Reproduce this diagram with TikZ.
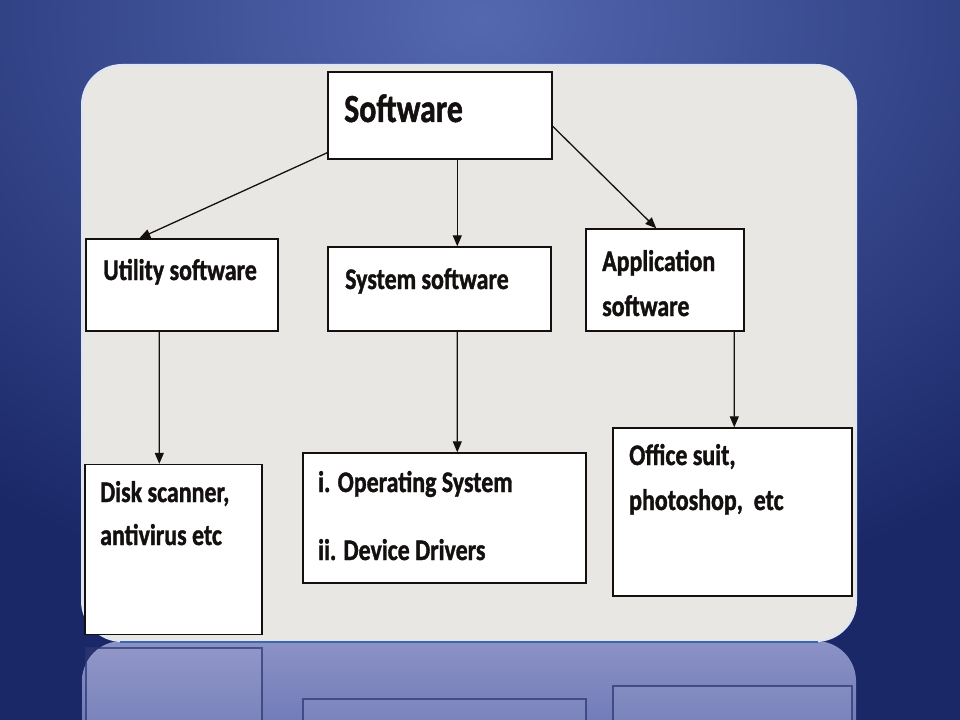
\documentclass[tikz,border=0pt]{standalone}
\usepackage{fontspec}
\setmainfont{Carlito}[FakeStretch=0.8, BoldFeatures={FakeBold=1.2}]
\usetikzlibrary{arrows.meta,calc}
\definecolor{navy}{RGB}{26,40,104}
\definecolor{skyb}{RGB}{84,104,176}
\definecolor{panelc}{RGB}{233,231,228}
\definecolor{panelb}{RGB}{222,230,244}
\definecolor{reflt}{RGB}{140,146,198}
\definecolor{reflb}{RGB}{88,102,170}
\definecolor{refll}{RGB}{40,52,112}
\definecolor{ink}{RGB}{20,16,16}
\tikzset{
  box/.style={draw=ink, line width=1.4bp, fill=white, inner sep=0pt},
  txt/.style={anchor=base west, inner sep=0pt, text=ink, font=\bfseries\fontsize{30}{36}\selectfont},
  big/.style={anchor=base west, inner sep=0pt, text=ink, font=\bfseries\fontsize{40}{46}\selectfont},
  arr/.style={draw=ink, line width=1.3bp, -{Triangle[length=11bp,width=9bp]}},
  rbox/.style={draw=refll, draw opacity=0.7, line width=1.4bp, fill=white, fill opacity=0.06}
}
\begin{document}
\begin{tikzpicture}[x=1bp,y=-1bp]
\useasboundingbox (0,0) rectangle (960,720);
% background
\fill[navy] (0,0) rectangle (960,720);
\begin{scope}
\clip (0,0) rectangle (960,720);
\shade[inner color=skyb, outer color=navy] (480,20) ellipse [x radius=800, y radius=600];
\end{scope}
% reflection
\begin{scope}
\clip (0,641) rectangle (960,720);
\shade[top color=reflt, bottom color=reflb, rounded corners=40bp] (82,641) rectangle (856,800);
\draw[rbox] (86,648) rectangle (262,822);
\draw[rbox] (303,699) rectangle (586,829);
\draw[rbox] (613,686) rectangle (852,854);
\end{scope}
% panel
\fill[panelc, rounded corners=40bp] (82,65) rectangle (856,641);
\draw[panelb, line width=2bp, rounded corners=40bp] (82,65) rectangle (856,641);
\draw[color={rgb,255:red,58;green,104;blue,170}, line width=2bp] (120,641.5) -- (818,641.5);
% boxes
\node[box, minimum width=224bp, minimum height=87bp] (sw) at (440,115.5) {};
\node[box, minimum width=192bp, minimum height=92bp] (ut) at (182,285) {};
\node[box, minimum width=223bp, minimum height=84bp] (sy) at (439.5,289) {};
\node[box, minimum width=158bp, minimum height=102bp] (ap) at (665,280) {};
\node[box, minimum width=177bp, minimum height=170bp] (dk) at (173.5,549.5) {};
\node[box, minimum width=283bp, minimum height=130bp] (os) at (444.5,518) {};
\node[box, minimum width=239bp, minimum height=168bp] (of) at (732.5,512) {};
% texts
\node[big] (t0) at (344,122) {Software};
\node[txt] (t1) at (103,280) {Utility software};
\node[txt] (t2) at (345,289) {System software};
\node[txt] (t3) at (602,271) {Application};
\node[txt] (t4) at (602,316) {software};
\node[txt] (t5) at (100,502) {Disk scanner,};
\node[txt] (t6) at (100,545) {antivirus etc};
\node[txt] (t7) at (318,492) {i. Operating System};
\node[txt] (t8) at (318,560) {ii. Device Drivers};
\node[txt] (t9) at (629,465) {Office suit,};
\node[txt] (t10) at (629,510) {photoshop,\ \ etc};
% connectors
\draw[arr] ($(sw.south west)+(0,-7)$) -- ($(ut.north west)+(54,0)$);
\draw[arr] ($(sw.south west)+(130,0)$) -- ($(sy.north west)+(130,0)$);
\draw[arr] ($(sw.north east)+(0,55)$) -- ($(ap.north west)+(71,0)$);
\draw[arr] ($(ut.south west)+(74,0)$) -- ($(dk.north west)+(75,0)$);
\draw[arr] ($(sy.south west)+(130,0)$) -- ($(os.north west)+(155,0)$);
\draw[arr] ($(ap.south west)+(149,0)$) -- ($(of.north west)+(122,0)$);
\end{tikzpicture}
\end{document}
